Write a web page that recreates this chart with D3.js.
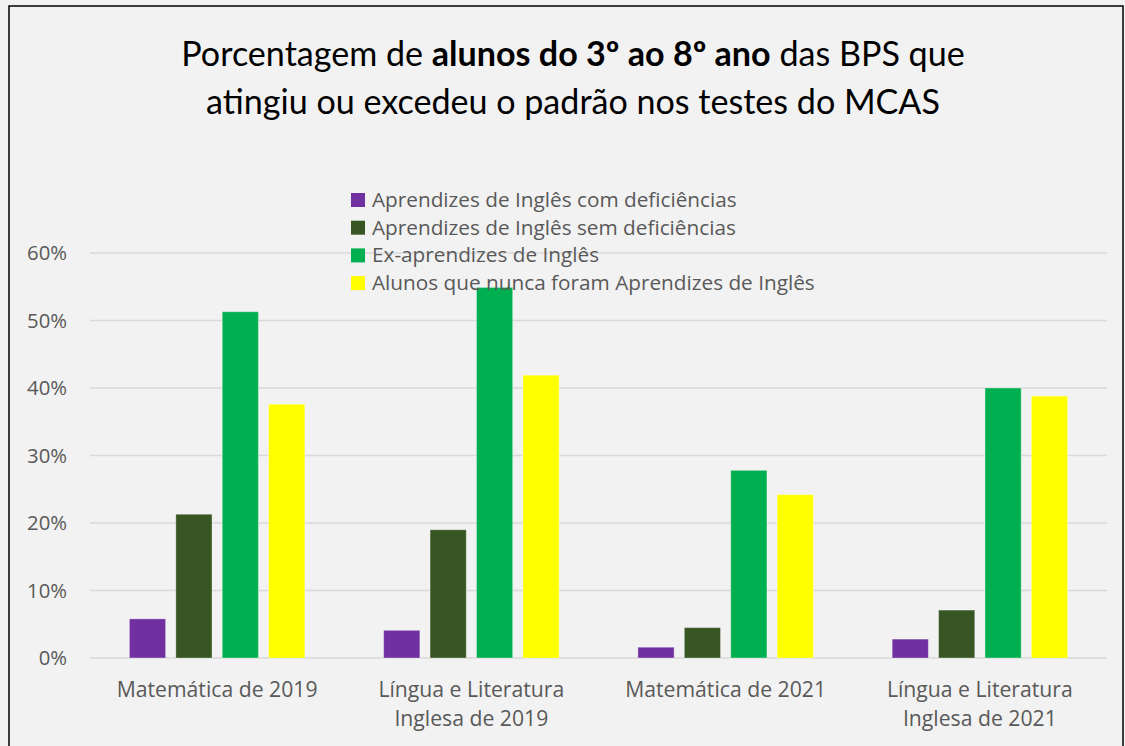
<!DOCTYPE html>
<html>
<head>
<meta charset="utf-8">
<script src="https://cdn.jsdelivr.net/npm/d3@7"></script>
<style>
  body { margin: 0; background: #f2f2f2; }
  text { font-family: "Open Sans", sans-serif; }
  .title text, text.title { font-family: Lato, sans-serif; }
</style>
</head>
<body>
<div id="chart"></div>
<script>
// chart size
var svgWidth = 1125;
var svgHeight = 746;

var margin = { top: 253, right: 18, bottom: 88, left: 90 };
var width = svgWidth - margin.left - margin.right;
var height = svgHeight - margin.top - margin.bottom;

// data
var categories = [
    ["Matemática de 2019"],
    ["Língua e Literatura", "Inglesa de 2019"],
    ["Matemática de 2021"],
    ["Língua e Literatura", "Inglesa de 2021"]
];
var seriesNames = [
    "Aprendizes de Inglês com deficiências",
    "Aprendizes de Inglês sem deficiências",
    "Ex-aprendizes de Inglês",
    "Alunos que nunca foram Aprendizes de Inglês"
];
var seriesColors = ["#7030a0", "#375623", "#00b050", "#ffff00"];
var elWithDisab = [5.8, 4.1, 1.6, 2.8];
var elNoDisab = [21.3, 19.0, 4.5, 7.1];
var formerEl = [51.3, 54.9, 27.8, 40.0];
var neverEl = [37.6, 41.9, 24.2, 38.8];
var yTicks = [0, 10, 20, 30, 40, 50, 60];

var seriesValues = [elWithDisab, elNoDisab, formerEl, neverEl];

// scale a text's font size so it spans the width seen in the picture
function fitSize(node, base, target) {
    var w = node.getComputedTextLength();
    return base * target / w;
}

var svg = d3.select("#chart")
    .append("svg")
    .attr("width", svgWidth)
    .attr("height", svgHeight);

svg.append("rect")
    .attr("x", 0).attr("y", 0)
    .attr("width", svgWidth).attr("height", svgHeight)
    .attr("fill", "#f2f2f2");

// outer border
svg.append("rect")
    .attr("x", 9).attr("y", 6)
    .attr("width", 1114).attr("height", 760)
    .attr("fill", "none")
    .attr("stroke", "#000")
    .attr("stroke-width", 1.5);

// title
var titleX = 573;
var title = svg.append("text")
    .attr("class", "title")
    .attr("x", titleX)
    .attr("text-anchor", "middle")
    .attr("font-size", 30)
    .attr("fill", "#000");
var t1 = title.append("tspan").attr("x", titleX).attr("y", 66);
t1.append("tspan").text("Porcentagem de ");
t1.append("tspan").attr("font-weight", "bold").text("alunos do 3º ao 8º ano");
t1.append("tspan").text(" das BPS que");
var t2 = title.append("tspan").attr("x", titleX).attr("y", 114)
    .text("atingiu ou excedeu o padrão nos testes do MCAS");
title.attr("font-size", fitSize(t2.node(), 30, 734));

var chartGroup = svg.append("g")
    .attr("transform", `translate(${margin.left}, ${margin.top})`);

var x0 = d3.scaleBand()
    .domain(d3.range(categories.length))
    .range([0, width])
    .paddingInner(0.31)
    .paddingOuter(0.155);

var x1 = d3.scaleBand()
    .domain(d3.range(seriesNames.length))
    .range([0, x0.bandwidth()])
    .paddingInner(0.22);

var yScale = d3.scaleLinear()
    .domain([0, 60])
    .range([height, 0]);

// gridlines
chartGroup.selectAll(".grid")
    .data(yTicks)
    .enter()
    .append("line")
    .attr("x1", 0)
    .attr("x2", width)
    .attr("y1", d => yScale(d))
    .attr("y2", d => yScale(d))
    .attr("stroke", "#d9d9d9")
    .attr("stroke-width", 1.5);

// y tick labels
var yLabels = chartGroup.selectAll(".ytick")
    .data(yTicks)
    .enter()
    .append("text")
    .attr("x", -23)
    .attr("y", d => yScale(d) + 6)
    .attr("text-anchor", "end")
    .attr("font-size", 18)
    .attr("fill", "#595959")
    .text(d => d + "%");
var tickSize = fitSize(yLabels.nodes()[6], 18, 40);
yLabels.attr("font-size", tickSize).attr("y", d => yScale(d) + tickSize * 0.36);

// bars
var groups = chartGroup.selectAll(".cat")
    .data(categories)
    .enter()
    .append("g")
    .attr("transform", (d, i) => `translate(${x0(i)}, 0)`);

groups.each(function(d, ci) {
    d3.select(this).selectAll("rect")
        .data(seriesValues.map((s, si) => ({ si: si, v: s[ci] })))
        .enter()
        .append("rect")
        .attr("x", e => x1(e.si))
        .attr("width", x1.bandwidth())
        .attr("y", e => yScale(e.v))
        .attr("height", e => yScale(0) - yScale(e.v))
        .attr("fill", e => seriesColors[e.si])
        .attr("stroke", "#ffffff")
        .attr("stroke-opacity", 0.35)
        .attr("stroke-width", 1);
});

// category labels
var xLabels = chartGroup.selectAll(".xlab")
    .data(categories)
    .enter()
    .append("text")
    .attr("text-anchor", "middle")
    .attr("font-size", 18)
    .attr("fill", "#595959")
    .each(function(lines, i) {
        var cx = x0(i) + x0.bandwidth() / 2;
        d3.select(this).selectAll("tspan")
            .data(lines)
            .enter()
            .append("tspan")
            .attr("x", cx)
            .attr("y", (l, j) => height + 39 + j * 29)
            .text(l => l);
    });
xLabels.attr("font-size", fitSize(xLabels.nodes()[0], 18, 201));

// legend
var legend = svg.append("g")
    .attr("transform", "translate(351, 193)");

var legendRows = legend.selectAll("g")
    .data(seriesNames)
    .enter()
    .append("g")
    .attr("transform", (d, i) => `translate(0, ${i * 27.7})`);

legendRows.append("rect")
    .attr("width", 14)
    .attr("height", 14)
    .attr("fill", (d, i) => seriesColors[i]);

var legendText = legendRows.append("text")
    .attr("x", 21)
    .attr("y", 14)
    .attr("font-size", 18)
    .attr("fill", "#595959")
    .text(d => d);
legendText.attr("font-size", fitSize(legendText.nodes()[0], 18, 365));
</script>
</body>
</html>
